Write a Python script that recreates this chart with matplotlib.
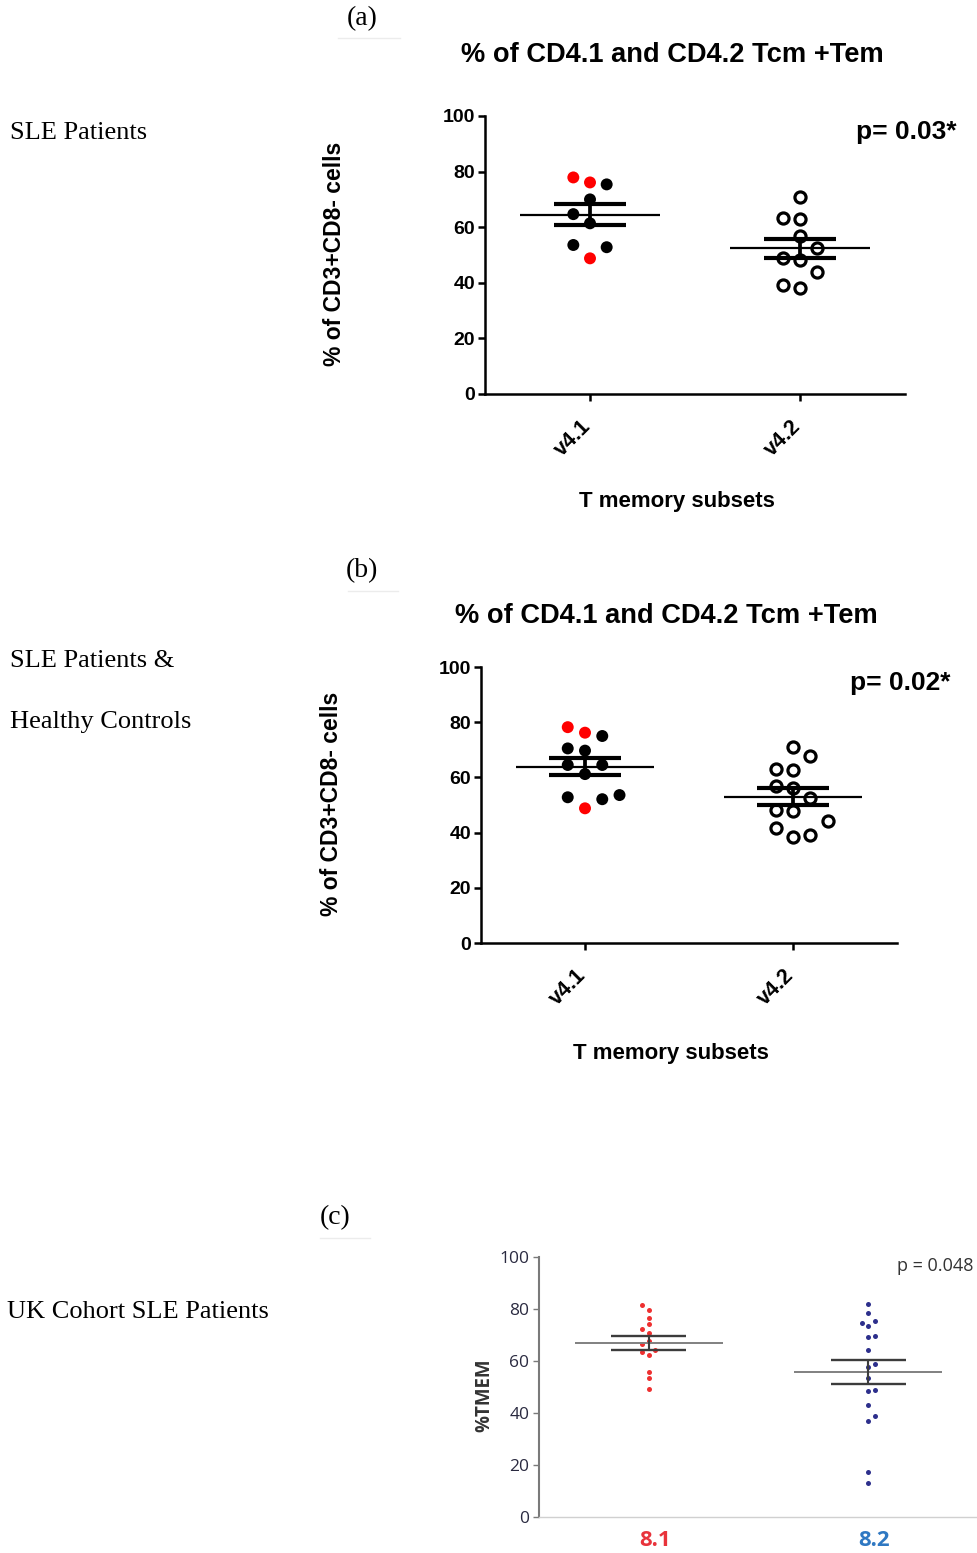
import matplotlib
matplotlib.use("Agg")
import matplotlib.pyplot as plt
from matplotlib.lines import Line2D
from matplotlib.transforms import ScaledTranslation
import numpy as np

W, H = 978, 1553  # output size in pixels (dpi 100)

# ---- data ----
# (a) SLE patients, % of CD3+CD8- cells
a_groups = ["v4.1", "v4.2"]
a_v41 = [76.1, 77.9, 75.4, 70.0, 61.4, 64.7, 48.8, 53.6, 52.8]
a_v41_red = [True, True, False, False, False, False, True, False, False]
a_v42 = [71.0, 62.8, 63.2, 56.8, 48.2, 48.8, 52.4, 38.2, 44.0, 39.2]
a_pval = "p= 0.03*"

# (b) SLE patients & healthy controls
b_groups = ["v4.1", "v4.2"]
b_v41 = [76.2, 78.2, 75.0, 69.7, 70.5, 61.2, 64.5, 64.5, 48.8, 52.8, 52.1, 53.6]
b_v41_red = [True, True, False, False, False, False, False, False, True, False, False, False]
b_v42 = [70.9, 62.7, 62.9, 67.8, 56.0, 56.9, 47.9, 48.2, 52.4, 38.3, 41.6, 39.1, 44.2]
b_pval = "p= 0.02*"

# (c) UK cohort, %TMEM
c_groups = ["8.1", "8.2"]
c_81 = [79.8, 81.5, 76.4, 74.2, 72.4, 70.8, 62.4, 63.4, 67.7, 66.4, 64.2, 55.8, 53.3, 49.4]
c_82 = [82.1, 78.3, 73.4, 75.4, 74.7, 69.3, 69.8, 64.1, 57.6, 58.9, 53.3, 48.5, 48.8,
        43.0, 36.8, 38.9, 17.4, 13.2]
c_pval = "p = 0.048"

yticks = [0, 20, 40, 60, 80, 100]

SANS = "Liberation Sans"
SERIF = "Liberation Serif"
OPEN = "Open Sans"


def px(x, y):
    return x / W, 1 - y / H


def box(l, t, r, b):
    return [l / W, 1 - b / H, (r - l) / W, (b - t) / H]


def swarm(values, d, first=-1):
    # greedy column placement, like prism's scatter dot plot
    order = [0, first, -first, -2 * first, 2 * first]
    taken = {}
    slots = []
    for v in values:
        for s in order:
            if all(abs(v - u) >= d for u in taken.get(s, [])):
                break
        taken.setdefault(s, []).append(v)
        slots.append(s)
    return np.array(slots)


def mean_sem(ax, x, vals, half_long, half_sem, mcolor, scolor, mlw, slw):
    vals = np.asarray(vals)
    m = vals.mean()
    sem = vals.std(ddof=1) / np.sqrt(len(vals))
    ax.hlines(m, x - half_long, x + half_long, color=mcolor, lw=mlw, zorder=4)
    ax.hlines([m - sem, m + sem], x - half_sem, x + half_sem, color=scolor, lw=slw,
              zorder=4)
    ax.vlines(x, m - sem, m + sem, color=scolor, lw=slw * 0.9, zorder=4)


def prism_panel(ax, groups, v41, v41_red, v42, step, d):
    s1 = swarm(v41, d)
    x1 = 1 + s1 * step
    cols = ["red" if r else "black" for r in v41_red]
    ax.scatter(x1, v41, s=8.6 ** 2, c=cols, edgecolors="none", zorder=3)
    s2 = swarm(v42, d)
    ax.plot(2 + s2 * step, v42, "o", ls="none", ms=8, mfc="none", mec="black",
            mew=2.3, zorder=3)
    mean_sem(ax, 1, v41, 0.333, 0.172, "black", "black", 1.6, 3.0)
    mean_sem(ax, 2, v42, 0.333, 0.172, "black", "black", 1.6, 3.0)

    ax.set_xlim(0.5, 2.5)
    ax.set_ylim(0, 100)
    ax.set_yticks(yticks)
    ax.set_xticks([1, 2])
    for s in ["top", "right"]:
        ax.spines[s].set_visible(False)
    for s in ["left", "bottom"]:
        ax.spines[s].set_linewidth(1.8)
    ax.tick_params(axis="both", direction="out", length=5, width=1.8)
    ax.tick_params(axis="y", pad=2)
    ax.tick_params(axis="x", pad=11)
    ax.set_yticklabels([str(t) for t in yticks], fontsize=14, fontweight="bold",
                       family=SANS)
    ax.set_xticklabels(groups, rotation=45, ha="right", fontsize=15.5,
                       fontweight="bold", family=SANS)
    off = ScaledTranslation(5 / 100, 0, ax.figure.dpi_scale_trans)
    for lab in ax.get_xticklabels():
        lab.set_transform(lab.get_transform() + off)


fig = plt.figure(figsize=(W / 100, H / 100), dpi=100)

# ---------- panel (a) ----------
ax_a = fig.add_axes(box(485, 116, 905, 394))
prism_panel(ax_a, a_groups, a_v41, a_v41_red, a_v42, 0.0794, 5.2)
fig.text(*px(362, 19), "(a)", family=SERIF, fontsize=20, ha="center", va="center")
fig.text(*px(672, 55), "% of CD4.1 and CD4.2 Tcm +Tem", family=SANS, fontsize=19.6,
         fontweight="bold", ha="center", va="center")
fig.text(*px(906, 132), a_pval, family=SANS, fontsize=19, fontweight="bold",
         ha="center", va="center")
fig.text(*px(335, 254), "% of CD3+CD8- cells", family=SANS, fontsize=16.5,
         fontweight="bold", rotation=90, ha="center", va="center")
fig.text(*px(677, 501), "T memory subsets", family=SANS, fontsize=16,
         fontweight="bold", ha="center", va="center")
fig.text(*px(10, 133), "SLE Patients", family=SERIF, fontsize=19, ha="left",
         va="center")

# ---------- panel (b) ----------
ax_b = fig.add_axes(box(481, 667, 897, 943))
prism_panel(ax_b, b_groups, b_v41, b_v41_red, b_v42, 0.083, 5.2)
fig.text(*px(362, 571), "(b)", family=SERIF, fontsize=20, ha="center", va="center")
fig.text(*px(666, 616), "% of CD4.1 and CD4.2 Tcm +Tem", family=SANS, fontsize=19.6,
         fontweight="bold", ha="center", va="center")
fig.text(*px(900, 683), b_pval, family=SANS, fontsize=19, fontweight="bold",
         ha="center", va="center")
fig.text(*px(331, 804), "% of CD3+CD8- cells", family=SANS, fontsize=16.5,
         fontweight="bold", rotation=90, ha="center", va="center")
fig.text(*px(671, 1054), "T memory subsets", family=SANS, fontsize=16,
         fontweight="bold", ha="center", va="center")
fig.text(*px(10, 661), "SLE Patients &", family=SERIF, fontsize=19, ha="left",
         va="center")
fig.text(*px(10, 722), "Healthy Controls", family=SERIF, fontsize=19, ha="left",
         va="center")

# ---------- panel (c) ----------
ax_c = fig.add_axes(box(539, 1257, 978, 1517))
step_c = 0.029
s81 = swarm(c_81, 2.2, first=-1)
s82 = swarm(c_82, 2.2, first=1)
ax_c.plot(1 + s81 * step_c, c_81, "o", ls="none", ms=3.6, color="#ee3030", mec="none",
          zorder=3)
ax_c.plot(2 + s82 * step_c, c_82, "o", ls="none", ms=3.6, color="#2d2f8c", mec="none",
          zorder=3)
mean_sem(ax_c, 1, c_81, 0.336, 0.17, "#808080", "#3c3c3c", 1.4, 1.7)
mean_sem(ax_c, 2, c_82, 0.336, 0.17, "#808080", "#3c3c3c", 1.4, 1.7)
ax_c.set_xlim(0.5, 2.5)
ax_c.set_ylim(0, 100)
ax_c.set_yticks(yticks)
ax_c.set_xticks([1, 2])
for s in ["top", "right"]:
    ax_c.spines[s].set_visible(False)
ax_c.spines["left"].set_color("#7a7a7a")
ax_c.spines["left"].set_linewidth(1.5)
ax_c.spines["bottom"].set_color("#d0d0d0")
ax_c.spines["bottom"].set_linewidth(1.0)
ax_c.tick_params(axis="y", direction="out", length=4, width=1, color="#7a7a7a", pad=3)
ax_c.tick_params(axis="x", length=0, pad=9)
ax_c.set_yticklabels([str(t) for t in yticks], fontsize=12.5, family=OPEN,
                     color="#2a2a40")
ax_c.set_xticklabels(c_groups, fontsize=16, fontweight="bold", family=OPEN)
off_c = ScaledTranslation(6 / 100, 0, fig.dpi_scale_trans)
for lab, col in zip(ax_c.get_xticklabels(), ["#e8333b", "#2f78c2"]):
    lab.set_color(col)
    lab.set_transform(lab.get_transform() + off_c)
fig.text(*px(973, 1266), c_pval, family=OPEN, fontsize=13, color="#333333",
         ha="right", va="center")
fig.text(*px(484, 1395), "%TMEM", family=OPEN, fontsize=13.5, fontweight="bold",
         color="#333333", rotation=90, ha="center", va="center")
fig.text(*px(335, 1218), "(c)", family=SERIF, fontsize=20, ha="center", va="center")
fig.text(*px(7, 1312), "UK Cohort SLE Patients", family=SERIF, fontsize=19,
         ha="left", va="center")

# faint rules under the panel letters
for (x0, x1, y) in [(338, 400, 38), (348, 398, 591), (320, 370, 1238)]:
    fig.add_artist(Line2D([x0 / W, x1 / W], [1 - y / H, 1 - y / H],
                          color="#ececec", lw=1, transform=fig.transFigure))

fig.savefig("out.png", dpi=100)
